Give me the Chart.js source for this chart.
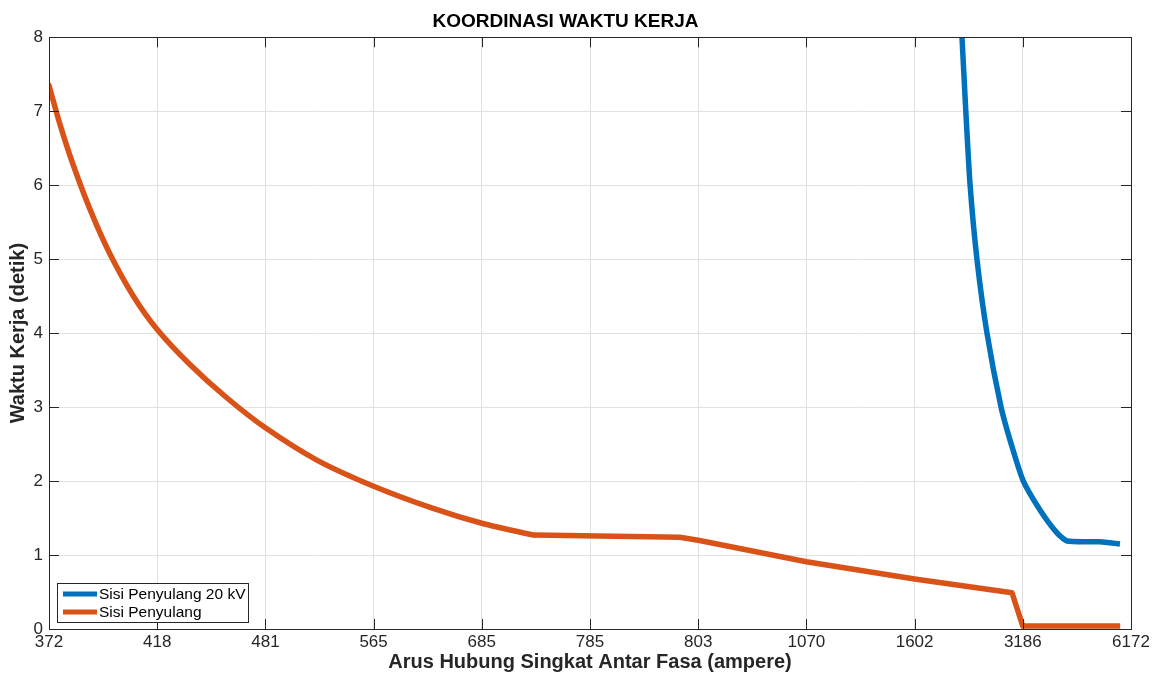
<!DOCTYPE html>
<html>
<head>
<meta charset="utf-8">
<script src="https://cdn.jsdelivr.net/npm/chart.js@4.4.1/dist/chart.umd.min.js"></script>
<style>
  html, body { margin: 0; padding: 0; background: #ffffff; }
  #wrap { width: 1159px; height: 676px; position: relative; }
</style>
</head>
<body>
<div id="wrap"><canvas id="c" width="1159" height="676"></canvas></div>
<script>
// ---- data (x is the tick position index along the category-like axis) ----
const xTickLabels = ['372', '418', '481', '565', '685', '785', '803', '1070', '1602', '3186', '6172'];
const yTicks = [0, 1, 2, 3, 4, 5, 6, 7, 8];

const seriesNames = ['Sisi Penyulang 20 kV', 'Sisi Penyulang'];

// Sisi Penyulang 20 kV
const blueX = [8.438, 8.473, 8.512, 8.577, 8.669, 8.799, 8.891, 9.002, 9.159, 9.316, 9.409, 9.713, 9.898];
const blueY = [8.00, 7.01, 6.02, 4.99, 4.00, 3.00, 2.51, 2.01, 1.61, 1.30, 1.19, 1.18, 1.15];

// Sisi Penyulang: curved (inverse-time) part
const orangeCurveX = [0.00, 0.10, 0.22, 0.38, 0.56, 0.78, 1.00, 1.30, 1.64, 2.00, 2.48, 3.00, 3.55, 4.00, 4.48];
const orangeCurveY = [7.35, 6.83, 6.29, 5.67, 5.08, 4.50, 4.05, 3.58, 3.13, 2.72, 2.28, 1.93, 1.63, 1.43, 1.27];
// Sisi Penyulang: straight part (from the knee onward)
const orangeLineX = [4.48, 5.83, 6.00, 7.00, 8.00, 8.90, 9.00, 9.90];
const orangeLineY = [1.27, 1.24, 1.20, 0.91, 0.675, 0.49, 0.04, 0.04];

const toPoints = (xs, ys) => xs.map((x, i) => ({ x: x, y: ys[i] }));

const FONT = "'Liberation Sans', Arial, Helvetica, sans-serif";
const AXIS_COLOR = '#262626';
const BLUE = '#0072BD';
const ORANGE = '#D95319';

const boxPlugin = {
  id: 'matlabBox',
  afterDatasetsDraw(chart) {
    const { ctx, chartArea: a, scales } = chart;
    const xs = scales.x, ys = scales.y;
    ctx.save();
    ctx.strokeStyle = AXIS_COLOR;
    ctx.lineWidth = 1;
    ctx.beginPath();
    const tl = 10;
    xs.ticks.forEach(t => {
      const p = Math.round(xs.getPixelForValue(t.value)) + 0.5;
      ctx.moveTo(p, a.bottom); ctx.lineTo(p, a.bottom - tl);
      ctx.moveTo(p, a.top); ctx.lineTo(p, a.top + tl);
    });
    ys.ticks.forEach(t => {
      const p = Math.round(ys.getPixelForValue(t.value)) + 0.5;
      ctx.moveTo(a.left, p); ctx.lineTo(a.left + tl, p);
      ctx.moveTo(a.right, p); ctx.lineTo(a.right - tl, p);
    });
    ctx.stroke();
    ctx.strokeRect(Math.round(a.left) + 0.5, Math.round(a.top) + 0.5,
                   Math.round(a.right - a.left), Math.round(a.bottom - a.top));
    ctx.restore();
  },
  afterDraw(chart) {
    const { ctx, chartArea: a } = chart;
    const entries = chart.data.datasets.filter(ds => ds.label);
    const bx = a.left + 8, bw = 191, bh = 39;
    const by = a.bottom - 7 - bh;
    ctx.save();
    ctx.fillStyle = '#ffffff';
    ctx.fillRect(bx, by, bw, bh);
    ctx.strokeStyle = AXIS_COLOR;
    ctx.lineWidth = 1;
    ctx.strokeRect(Math.round(bx) + 0.5, Math.round(by) + 0.5, bw, bh);
    ctx.font = '15.5px ' + FONT;
    ctx.textBaseline = 'middle';
    ctx.fillStyle = '#000000';
    entries.forEach((ds, i) => {
      const cy = by + 11 + i * 18;
      ctx.strokeStyle = ds.borderColor;
      ctx.lineWidth = 5;
      ctx.beginPath();
      ctx.moveTo(bx + 6, cy);
      ctx.lineTo(bx + 40, cy);
      ctx.stroke();
      ctx.fillText(ds.label, bx + 42, cy + 1);
    });
    ctx.restore();
  }
};

const common = { borderWidth: 5.5, pointRadius: 0, fill: false, borderJoinStyle: 'round' };

new Chart(document.getElementById('c'), {
  type: 'line',
  data: {
    datasets: [
      Object.assign({
        label: seriesNames[0],
        data: toPoints(blueX, blueY),
        borderColor: BLUE, backgroundColor: BLUE,
        tension: 0.2
      }, common),
      Object.assign({
        label: seriesNames[1],
        data: toPoints(orangeCurveX, orangeCurveY),
        borderColor: ORANGE, backgroundColor: ORANGE,
        tension: 0.3,
        borderCapStyle: 'round'
      }, common),
      Object.assign({
        label: '',
        data: toPoints(orangeLineX, orangeLineY),
        borderColor: ORANGE, backgroundColor: ORANGE,
        tension: 0
      }, common)
    ]
  },
  options: {
    responsive: false,
    animation: false,
    devicePixelRatio: 1,
    layout: { padding: { top: 0, right: 28, left: 0, bottom: 0 } },
    plugins: {
      legend: { display: false },
      tooltip: { enabled: false },
      title: {
        display: true,
        text: 'KOORDINASI WAKTU KERJA',
        color: '#000000',
        font: { family: FONT, size: 19, weight: 'bold' },
        padding: { top: 10, bottom: 4.5 }
      }
    },
    scales: {
      x: {
        type: 'linear',
        min: 0,
        max: 10,
        afterBuildTicks(scale) {
          scale.ticks = xTickLabels.map((_, i) => ({ value: i }));
        },
        afterFit(scale) { scale.height = 47; },
        ticks: {
          autoSkip: false,
          maxRotation: 0,
          padding: 3,
          color: AXIS_COLOR,
          font: { family: FONT, size: 17 },
          callback: (v) => xTickLabels[v]
        },
        grid: { color: '#e1e1e1', lineWidth: 1, drawTicks: false },
        border: { display: false },
        title: {
          display: true,
          text: 'Arus Hubung Singkat Antar Fasa (ampere)',
          color: AXIS_COLOR,
          font: { family: FONT, size: 20, weight: 'bold' },
          padding: { top: 0, bottom: 2 }
        }
      },
      y: {
        type: 'linear',
        min: 0,
        max: 8,
        afterBuildTicks(scale) {
          scale.ticks = yTicks.map(v => ({ value: v }));
        },
        afterFit(scale) { scale.width = 49; },
        ticks: {
          padding: 6,
          color: AXIS_COLOR,
          font: { family: FONT, size: 17 }
        },
        grid: { color: '#e1e1e1', lineWidth: 1, drawTicks: false },
        border: { display: false },
        title: {
          display: true,
          text: 'Waktu Kerja (detik)',
          color: AXIS_COLOR,
          font: { family: FONT, size: 20, weight: 'bold' },
          padding: { top: 6, bottom: 0 }
        }
      }
    }
  },
  plugins: [boxPlugin]
});
</script>
</body>
</html>
